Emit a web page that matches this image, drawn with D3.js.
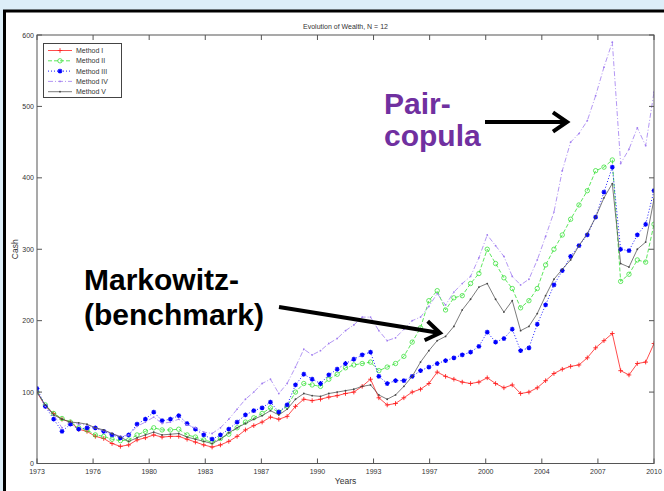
<!DOCTYPE html>
<html><head><meta charset="utf-8">
<script src="https://cdn.jsdelivr.net/npm/d3@7"></script>
<style>html,body{margin:0;padding:0;background:#ddeef8;}svg{display:block;}</style>
</head><body>
<svg id="c" width="664" height="491"></svg>
<script>
// ---------- DATA ----------
const chartTitle = "Evolution of Wealth, N = 12";
const xLabel = "Years";
const yLabel = "Cash";
const xTickLabels = ["1973","1976","1980","1983","1987","1990","1993","1997","2000","2004","2007","2010"];
const yTicks = [0,100,200,300,400,500,600];
const seriesNames = ["Method I","Method II","Method III","Method IV","Method V"];
// observation times (half-yearly readings, 1973.0 .. 2010.0)
const years = d3.range(75).map(i => 1973 + i * 0.5);

const methodI = [100,80,70,62,58,48,45,38,35,28,24,26,33,36,40,37,38,38,34,30,26,23,26,31,38,47,53,58,65,62,
  66,80,90,88,90,93,95,98,100,108,118,92,82,84,92,100,104,112,128,122,118,114,112,114,120,112,106,110,98,100,
  106,116,126,132,136,138,148,162,172,182,130,124,140,142,168];
const methodII = [100,82,70,63,58,50,47,40,38,34,32,33,40,45,50,47,47,48,40,37,33,30,35,41,50,58,64,70,78,72,
  80,100,112,110,108,118,125,134,138,140,142,130,135,140,150,170,190,228,242,215,232,235,252,266,300,280,260,245,218,228,
  245,278,300,320,342,362,382,410,415,425,255,265,285,282,335];
const methodIII = [105,80,62,45,55,48,50,50,45,40,36,40,55,62,72,60,62,67,56,48,40,34,40,48,58,68,74,78,86,72,
  82,110,125,118,112,124,132,140,146,152,156,122,112,116,116,122,130,135,140,144,148,152,156,164,184,170,175,188,158,162,
  195,222,250,270,290,305,320,345,380,415,300,298,320,335,382];
const methodIV = [100,80,68,50,58,55,54,50,46,42,38,40,52,58,65,56,58,62,54,50,44,42,50,62,76,90,100,112,118,98,
  112,135,160,152,158,168,175,186,194,205,205,186,172,176,188,200,205,220,238,222,240,252,262,288,320,305,290,262,250,258,
  285,318,352,410,450,462,480,515,555,590,420,440,470,445,520];
const methodV = [100,82,68,62,58,57,55,50,47,42,37,31,36,40,44,40,41,42,37,34,31,28,34,43,50,56,62,67,74,68,
  76,90,98,95,94,98,100,102,104,108,110,96,90,96,108,122,142,158,172,178,192,215,230,247,252,230,212,228,186,192,
  210,235,258,272,285,305,322,345,372,392,280,275,300,310,370];

const seriesValues = [methodI, methodII, methodIII, methodIV, methodV];

// ---------- STYLES ----------
const styles = [
  {color:"#ff2020", dash:null, width:0.8, marker:"plus"},
  {color:"#33e033", dash:"4,2", width:0.8, marker:"circle"},
  {color:"#0000ff", dash:"1,2", width:0.9, marker:"star"},
  {color:"#a07cf0", dash:"5,2,1,2", width:0.8, marker:"dot"},
  {color:"#444444", dash:null, width:0.7, marker:"dot"}
];

const svg = d3.select("#c");
svg.append("rect").attr("width",664).attr("height",491).attr("fill","#ddeef8");
svg.append("rect").attr("x",4.5).attr("y",11).attr("width",700).attr("height",500)
  .attr("fill","#ffffff").attr("stroke","#000").attr("stroke-width",3);

const L = 37, R = 654, T = 35, B = 463.5;
const x = d3.scaleLinear().domain([1973, 2010]).range([L, R]);
const y = d3.scaleLinear().domain([0, 600]).range([B, T]);
const xTickVals = xTickLabels.map((d, i) => 1973 + i * 37 / (xTickLabels.length - 1));

const font = "'Liberation Sans', Arial, sans-serif";
const axCol = "#555";

// title
svg.append("text").attr("x", (L + R) / 2).attr("y", 29).attr("text-anchor","middle")
  .attr("font-family", font).attr("font-size", 7).attr("fill","#333").text(chartTitle);

// clip
svg.append("clipPath").attr("id","clip").append("rect")
  .attr("x", L).attr("y", T - 2).attr("width", R - L).attr("height", B - T + 2);

const plot = svg.append("g").attr("clip-path","url(#clip)");

function markerPath(type) {
  if (type === "plus") return "M-2.3,0H2.3M0,-2.3V2.3";
  if (type === "star") return "M-2.4,0H2.4M0,-2.4V2.4M-1.7,-1.7L1.7,1.7M-1.7,1.7L1.7,-1.7";
  return null;
}
function drawMarker(g, type, color, px, py) {
  if (type === "circle") {
    g.append("circle").attr("cx",px).attr("cy",py).attr("r",2.2)
      .attr("fill","none").attr("stroke",color).attr("stroke-width",0.75);
  } else if (type === "dot") {
    g.append("circle").attr("cx",px).attr("cy",py).attr("r",0.9)
      .attr("fill",color);
  } else {
    g.append("path").attr("transform",`translate(${px},${py})`).attr("d",markerPath(type))
      .attr("fill","none").attr("stroke",color).attr("stroke-width", type === "star" ? 1.2 : 0.9);
  }
}

const line = d3.line().x((d, i) => x(years[i])).y(d => y(d));

seriesValues.forEach((vals, k) => {
  const st = styles[k];
  const g = plot.append("g");
  g.append("path").attr("d", line(vals)).attr("fill","none")
    .attr("stroke", st.color).attr("stroke-width", st.width)
    .attr("stroke-dasharray", st.dash);
  vals.forEach((v, i) => drawMarker(g, st.marker, st.color, x(years[i]), y(v)));
});

// axes box
svg.append("rect").attr("x",L).attr("y",T).attr("width",R-L).attr("height",B-T)
  .attr("fill","none").attr("stroke",axCol).attr("stroke-width",1);

// x ticks
const xt = svg.append("g");
xTickVals.forEach((v, i) => {
  const px = x(v);
  xt.append("line").attr("x1",px).attr("x2",px).attr("y1",B).attr("y2",B-5).attr("stroke",axCol);
  xt.append("line").attr("x1",px).attr("x2",px).attr("y1",T).attr("y2",T+5).attr("stroke",axCol);
  xt.append("text").attr("x",px).attr("y",B+10).attr("text-anchor","middle")
    .attr("font-family",font).attr("font-size",7).attr("fill","#333").text(xTickLabels[i]);
});
// y ticks
const yt = svg.append("g");
yTicks.forEach(v => {
  const py = y(v);
  yt.append("line").attr("x1",L).attr("x2",L+5).attr("y1",py).attr("y2",py).attr("stroke",axCol);
  yt.append("line").attr("x1",R).attr("x2",R-5).attr("y1",py).attr("y2",py).attr("stroke",axCol);
  yt.append("text").attr("x",L-3).attr("y",py+2.5).attr("text-anchor","end")
    .attr("font-family",font).attr("font-size",7).attr("fill","#333").text(v);
});

// axis labels
svg.append("text").attr("x",(L+R)/2).attr("y",484).attr("text-anchor","middle")
  .attr("font-family",font).attr("font-size",8.5).attr("fill","#333").text(xLabel);
svg.append("text").attr("transform",`translate(18,${(T+B)/2}) rotate(-90)`).attr("text-anchor","middle")
  .attr("font-family",font).attr("font-size",8.5).attr("fill","#333").text(yLabel);

// legend
const lg = svg.append("g");
lg.append("rect").attr("x",43.5).attr("y",43.5).attr("width",78).attr("height",54)
  .attr("fill","#fff").attr("stroke","#444").attr("stroke-width",1);
seriesNames.forEach((name, k) => {
  const st = styles[k];
  const ly = 50.5 + k * 10.3;
  lg.append("line").attr("x1",48).attr("x2",72).attr("y1",ly).attr("y2",ly)
    .attr("stroke",st.color).attr("stroke-width",st.width).attr("stroke-dasharray",st.dash);
  drawMarker(lg, st.marker, st.color, 60, ly);
  lg.append("text").attr("x",76).attr("y",ly+2.5).attr("font-family",font).attr("font-size",7)
    .attr("fill","#333").text(name);
});

// annotations
const ann = svg.append("g").attr("font-family", font).attr("font-weight","bold").attr("font-size",30);
ann.append("text").attr("x",384).attr("y",114).attr("fill","#7030a0").text("Pair-");
ann.append("text").attr("x",384).attr("y",146).attr("fill","#7030a0").text("copula");
ann.append("text").attr("x",84).attr("y",290).attr("fill","#000").text("Markowitz-");
ann.append("text").attr("x",84).attr("y",325).attr("fill","#000").text("(benchmark)");

function arrow(x1, y1, x2, y2) {
  const a = Math.atan2(y2 - y1, x2 - x1), h = 17, s = 0.6;
  svg.append("line").attr("x1",x1).attr("y1",y1).attr("x2",x2).attr("y2",y2)
    .attr("stroke","#000").attr("stroke-width",4);
  svg.append("path")
    .attr("d", `M${x2 - h*Math.cos(a - s)},${y2 - h*Math.sin(a - s)}L${x2},${y2}L${x2 - h*Math.cos(a + s)},${y2 - h*Math.sin(a + s)}`)
    .attr("fill","none").attr("stroke","#000").attr("stroke-width",4).attr("stroke-linejoin","miter");
}
arrow(485, 122, 567, 122);
arrow(279, 307, 440, 333);
</script>
</body></html>
